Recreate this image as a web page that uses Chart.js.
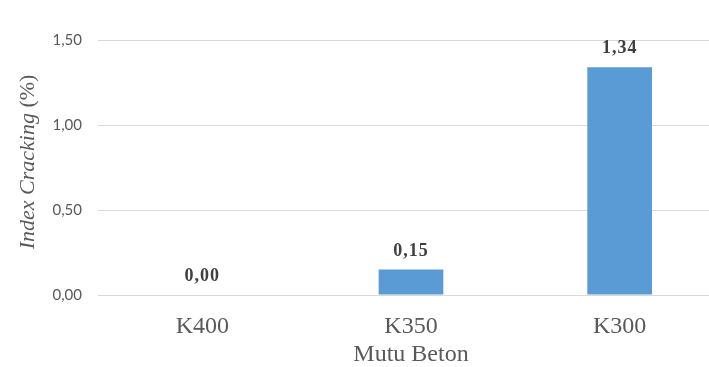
<!DOCTYPE html>
<html>
<head>
<meta charset="utf-8">
<script src="https://cdn.jsdelivr.net/npm/chart.js"></script>
<style>
  html, body { margin: 0; padding: 0; background: #fff; overflow: hidden; }
  #wrap { position: absolute; left: 0; top: 0; width: 724px; height: 367px; }
</style>
</head>
<body>
<div id="wrap"><canvas id="chart"></canvas></div>
<script>
const categories = ["K400", "K350", "K300"];
const crackingIndex = [0.00, 0.15, 1.34];
const yTicks = [0, 0.5, 1.0, 1.5];

const barColor = "#5B9BD5";
const textColor = "#595959";
const serif = "'Liberation Serif', 'Times New Roman', serif";

function comma(v) {
  return v.toFixed(2).replace(".", ",");
}

// value labels above each bar
const valueLabels = {
  id: "valueLabels",
  afterDatasetsDraw(chart) {
    const ctx = chart.ctx;
    const meta = chart.getDatasetMeta(0);
    ctx.save();
    ctx.font = "bold 18px " + serif;
    ctx.letterSpacing = "1px";
    ctx.fillStyle = "#404040";
    ctx.textAlign = "center";
    ctx.textBaseline = "alphabetic";
    meta.data.forEach((bar, i) => {
      ctx.fillText(comma(crackingIndex[i]), bar.x, bar.y - 14);
    });
    ctx.restore();
  }
};

// y axis title, italic words followed by upright unit
const yTitle = {
  id: "yTitle",
  afterDraw(chart) {
    const ctx = chart.ctx;
    const a = "Index Cracking ";
    const b = "(%)";
    ctx.save();
    ctx.translate(28, 162);
    ctx.rotate(-Math.PI / 2);
    ctx.fillStyle = textColor;
    ctx.textBaseline = "middle";
    ctx.font = "italic 22px " + serif;
    const wa = ctx.measureText(a).width;
    ctx.font = "22px " + serif;
    const wb = ctx.measureText(b).width;
    const x = -(wa + wb) / 2;
    ctx.textAlign = "left";
    ctx.font = "italic 22px " + serif;
    ctx.fillText(a, x, 0);
    ctx.font = "22px " + serif;
    ctx.fillText(b, x + wa, 0);
    ctx.restore();
  }
};

new Chart(document.getElementById("chart"), {
  type: "bar",
  data: {
    labels: categories,
    datasets: [{
      data: crackingIndex,
      backgroundColor: barColor,
      categoryPercentage: 1,
      barPercentage: 0.31
    }]
  },
  options: {
    responsive: true,
    maintainAspectRatio: false,
    animation: false,
    layout: { padding: { top: 40, right: 0, bottom: 0, left: 0 } },
    plugins: {
      legend: { display: false },
      tooltip: { enabled: false }
    },
    scales: {
      x: {
        afterFit(scale) { scale.height = 72; },
        grid: { display: false },
        border: { display: false },
        ticks: {
          color: textColor,
          font: { family: serif, size: 24 },
          padding: 9
        },
        title: {
          display: true,
          text: "Mutu Beton",
          color: textColor,
          font: { family: serif, size: 24 },
          padding: { top: 0, bottom: -2 }
        }
      },
      y: {
        min: 0,
        max: 1.5,
        afterFit(scale) { scale.width = 98; },
        afterBuildTicks(scale) {
          scale.ticks = yTicks.map(v => ({ value: v }));
        },
        grid: { color: "#d9d9d9", drawTicks: false },
        border: { display: false },
        ticks: {
          color: textColor,
          font: { family: "Lato, 'Open Sans', sans-serif", size: 15 },
          padding: 16,
          callback: v => comma(v)
        }
      }
    }
  },
  plugins: [valueLabels, yTitle]
});
</script>
</body>
</html>
